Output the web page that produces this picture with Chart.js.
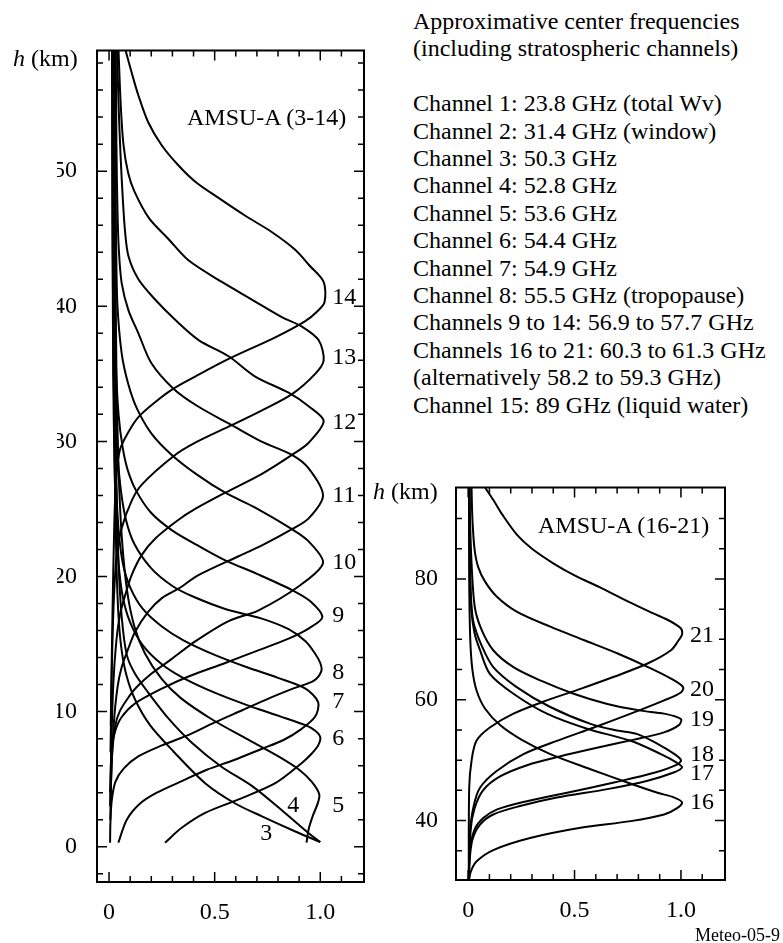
<!DOCTYPE html>
<html>
<head>
<meta charset="utf-8">
<script src="https://cdn.jsdelivr.net/npm/chart.js@4.4.0/dist/chart.umd.min.js"></script>
<style>
  body { margin: 0; background: #fff; width: 783px; height: 943px; position: relative; overflow: hidden;
         font-family: 'Liberation Serif', 'Times New Roman', serif; color: #000; }
  .box { position: absolute; }
  .t { position: absolute; font-size: 24px; line-height: 28px; white-space: nowrap; }
  #freq { position: absolute; left: 413px; top: 8px; font-size: 24px; line-height: 27.4px; white-space: nowrap; }
</style>
</head>
<body>
<div class="box" style="left:0;top:0;width:400px;height:943px"><canvas id="left"></canvas></div>
<div class="box" style="left:400px;top:420px;width:383px;height:523px"><canvas id="right"></canvas></div>

<div class="t" style="left:13px;top:44px"><i>h</i> (km)</div>
<div class="t" style="left:187px;top:103px">AMSU-A (3-14)</div>
<div class="t" style="left:373px;top:477px"><i>h</i> (km)</div>
<div class="t" style="left:538px;top:511px">AMSU-A (16-21)</div>
<div class="t" style="left:695px;top:924px;font-size:18px;line-height:22px">Meteo-05-9</div>
<div id="freq">
Approximative center frequencies<br>
(including stratospheric channels)<br>
<br>
Channel 1: 23.8 GHz (total Wv)<br>
Channel 2: 31.4 GHz (window)<br>
Channel 3: 50.3 GHz<br>
Channel 4: 52.8 GHz<br>
Channel 5: 53.6 GHz<br>
Channel 6: 54.4 GHz<br>
Channel 7: 54.9 GHz<br>
Channel 8: 55.5 GHz (tropopause)<br>
Channels 9 to 14: 56.9 to 57.7 GHz<br>
Channels 16 to 21: 60.3 to 61.3 GHz<br>
(alternatively 58.2 to 59.3 GHz)<br>
Channel 15: 89 GHz (liquid water)
</div>

<script>
// weighting functions, [weight, height km], read top to bottom
const ch3 = [[0.015,58.9],[0.018,45],[0.022,35],[0.028,27],[0.035,21],[0.045,17],[0.06,14.5],[0.084,12.6],[0.123,10.9],[0.194,9.0],[0.305,7.05],[0.455,4.7],[0.597,3.2],[0.724,2.25],[0.882,1.13],[1.0,0.35]];
const ch4 = [[0.022,58.9],[0.025,45],[0.03,35],[0.035,27],[0.045,21],[0.06,17],[0.084,14.2],[0.123,12.8],[0.186,11.4],[0.281,9.5],[0.392,7.7],[0.534,5.9],[0.676,4.5],[0.818,2.7],[0.945,1.0],[1.0,0.35]];
const ch5 = [[0.028,58.9],[0.03,45],[0.035,35],[0.045,28],[0.06,23],[0.085,19],[0.12,16.3],[0.17,14.3],[0.25,12.4],[0.34,11.0],[0.49,9.4],[0.65,8.0],[0.8,6.7],[0.9,5.7],[0.96,4.8],[0.995,3.9],[0.99,3.3],[0.965,2.3],[0.945,1.3],[0.935,0.3]];
const ch6 = [[0.015,58.9],[0.017,44],[0.02,35],[0.025,29],[0.033,24.5],[0.045,21],[0.065,18.5],[0.1,16.6],[0.16,14.9],[0.25,13.5],[0.35,12.5],[0.5,11.4],[0.65,10.5],[0.8,9.7],[0.93,9.0],[0.975,8.6],[1.0,8.1],[0.99,7.5],[0.96,6.9],[0.913,6.2],[0.787,4.7],[0.613,3.5],[0.455,2.5],[0.344,1.4],[0.265,0.3]];
const ch7 = [[0.015,58.9],[0.017,46],[0.02,38],[0.025,32],[0.033,27],[0.045,23.5],[0.065,21],[0.1,19.2],[0.16,17.6],[0.25,16.3],[0.35,15.3],[0.5,14.2],[0.65,13.3],[0.8,12.5],[0.93,11.7],[0.99,10.7],[0.976,9.64],[0.905,8.65],[0.826,7.9],[0.716,7.2],[0.589,6.4],[0.463,5.7],[0.336,4.8],[0.226,4.0],[0.147,3.2],[0.084,2.0],[0.044,0.3]];
const ch8 = [[0.018,58.9],[0.02,48],[0.023,40],[0.028,34],[0.038,29.5],[0.055,26.5],[0.08,24.2],[0.12,22.4],[0.2,20.6],[0.3,19.3],[0.4,18.5],[0.55,17.6],[0.72,16.9],[0.85,16.1],[0.93,15.2],[0.975,14.3],[1.0,13.6],[1.005,13.0],[0.97,12.3],[0.87,11.7],[0.76,11.0],[0.63,10.1],[0.5,9.2],[0.38,8.3],[0.25,7.5],[0.14,6.7],[0.07,5.8],[0.03,4.8],[0.012,3.3],[0.006,1.5],[0.005,0.3]];
const ch9 = [[0.022,58.9],[0.024,50],[0.027,42],[0.032,36],[0.045,32],[0.065,29.5],[0.09,27.8],[0.13,26.3],[0.2,24.7],[0.3,23.4],[0.42,22.3],[0.55,21.2],[0.7,20.2],[0.866,19.0],[0.95,18.2],[1.01,17.0],[0.95,16.2],[0.85,15.4],[0.7,14.5],[0.55,13.6],[0.376,12.6],[0.25,11.7],[0.123,10.6],[0.06,9.6],[0.028,8.5],[0.012,7],[0.005,4]];
const ch10 = [[0.027,58.9],[0.03,50],[0.034,44],[0.04,40],[0.06,36.5],[0.09,34.3],[0.13,32.5],[0.2,30.6],[0.297,29.0],[0.42,27.5],[0.55,26.2],[0.692,25.1],[0.866,23.5],[0.945,22.6],[1.013,21.0],[0.9,19.3],[0.708,17.5],[0.566,16.7],[0.408,15.2],[0.297,13.9],[0.2,12.8],[0.13,11.8],[0.085,10.9],[0.05,10.0],[0.03,9.0],[0.015,7],[0.006,3]];
const ch11 = [[0.032,58.9],[0.035,52],[0.04,47],[0.047,44],[0.06,41.7],[0.092,39.7],[0.139,38.0],[0.2,35.8],[0.305,33.9],[0.42,32.6],[0.581,31.2],[0.72,30.0],[0.866,29.0],[0.945,28.0],[1.013,26.0],[0.945,24.3],[0.866,23.5],[0.724,22.3],[0.613,21.5],[0.423,20.1],[0.329,19.1],[0.25,18.4],[0.186,17.4],[0.123,15.9],[0.092,14.7],[0.06,13.3],[0.04,11.8],[0.022,9],[0.01,5],[0.006,2]];
const ch12 = [[0.038,58.9],[0.045,55],[0.055,51],[0.065,48],[0.076,45.5],[0.092,43.7],[0.139,42.0],[0.218,40.5],[0.313,39.0],[0.424,37.5],[0.566,36.3],[0.692,34.8],[0.85,33.6],[0.945,32.6],[1.016,31.5],[0.945,29.9],[0.866,29.0],[0.724,27.6],[0.55,26.2],[0.408,25.0],[0.329,24.2],[0.218,22.8],[0.155,21.6],[0.107,20.1],[0.076,18.6],[0.052,17.2],[0.035,15.3],[0.02,12],[0.01,7],[0.006,3]];
const ch13 = [[0.045,58.9],[0.055,55],[0.068,52],[0.09,49.9],[0.12,48.5],[0.19,46.5],[0.28,45.0],[0.376,43.4],[0.534,41.8],[0.676,40.5],[0.818,39.2],[0.913,38.5],[0.992,37.5],[1.016,36.0],[0.976,35.0],[0.866,33.5],[0.724,32.3],[0.581,31.2],[0.408,29.9],[0.305,28.9],[0.155,26.8],[0.107,25.6],[0.06,23.6],[0.036,21.6],[0.022,18],[0.013,13],[0.007,7]];
const ch14 = [[0.079,58.9],[0.107,57.3],[0.139,55.6],[0.186,53.6],[0.25,51.9],[0.33,50.4],[0.41,49.2],[0.52,48.0],[0.645,46.7],[0.77,45.5],[0.88,44.2],[0.95,43.0],[1.016,41.8],[1.02,40.3],[0.984,39.6],[0.929,38.9],[0.787,37.7],[0.566,36.1],[0.408,34.8],[0.305,33.9],[0.218,32.9],[0.139,31.8],[0.092,30.7],[0.052,29.4],[0.035,27.5],[0.025,24],[0.015,16],[0.008,9]];

const ch16 = [[0.004,95.1],[0.005,80],[0.01,70],[0.02,65],[0.04,61.5],[0.08,58.5],[0.15,55.8],[0.25,53.4],[0.386,51.0],[0.575,48.5],[0.748,46.3],[0.89,44.6],[0.969,43.8],[1.005,43.0],[0.98,42.0],[0.921,41.0],[0.764,39.9],[0.528,38.8],[0.291,37.1],[0.118,35.1],[0.039,33.2],[0.012,31.5],[0.004,30.1]];
const ch17 = [[0.005,95.1],[0.008,82],[0.015,75],[0.03,71],[0.055,68.3],[0.102,64.3],[0.213,61.0],[0.37,57.7],[0.559,55.2],[0.764,53.2],[0.906,51.0],[0.98,49.6],[1.005,48.8],[0.969,48.0],[0.843,46.6],[0.654,45.2],[0.417,43.8],[0.244,42.4],[0.118,41.0],[0.055,39.3],[0.02,36.8],[0.006,33],[0.003,30.1]];
const ch18 = [[0.006,95.1],[0.008,85],[0.012,78],[0.024,73],[0.063,69],[0.118,65.4],[0.228,62.1],[0.386,58.8],[0.575,56.0],[0.7,54.9],[0.795,54.3],[0.89,52.7],[0.97,51.0],[1.0,50.0],[0.984,49.3],[0.874,47.9],[0.685,46.3],[0.465,44.6],[0.276,43.2],[0.134,41.8],[0.071,40.4],[0.03,38.5],[0.008,35],[0.003,30.1]];
const ch19 = [[0.007,95.1],[0.008,91],[0.016,82.7],[0.031,75.4],[0.063,71.6],[0.118,68.2],[0.213,65.4],[0.339,63.2],[0.496,61.0],[0.654,59.3],[0.811,58.2],[0.921,57.7],[1.0,56.8],[0.99,55.8],[0.92,54.6],[0.78,53.4],[0.6,52.0],[0.43,50.6],[0.28,49.2],[0.15,47.3],[0.07,45.0],[0.03,42.0],[0.012,38.5],[0.004,30.1]];
const ch20 = [[0.016,95.1],[0.02,90],[0.03,85],[0.047,82],[0.079,79.6],[0.134,77.1],[0.228,74.6],[0.386,72.1],[0.543,69.9],[0.7,67.7],[0.858,65.2],[0.953,63.5],[1.01,62.1],[1.0,61.2],[0.921,59.9],[0.764,57.7],[0.591,55.4],[0.417,53.2],[0.26,51.0],[0.134,48.2],[0.055,45.4],[0.024,42.1],[0.008,37.7],[0.003,30.1]];
const ch21 = [[0.08,95.1],[0.12,93],[0.16,90.7],[0.23,87.3],[0.3,85],[0.4,82.6],[0.5,80.6],[0.62,78.6],[0.75,76.3],[0.87,74.3],[0.95,73],[1.0,71.8],[1.005,70.8],[0.99,69.9],[0.953,68.2],[0.843,66.0],[0.685,63.8],[0.528,61.8],[0.37,59.9],[0.213,57.7],[0.102,55.4],[0.039,53.2],[0.016,49.9],[0.005,45.4],[0.003,30.1]];

const leftSeries = [ch3, ch4, ch5, ch6, ch7, ch8, ch9, ch10, ch11, ch12, ch13, ch14];
const rightSeries = [ch16, ch17, ch18, ch19, ch20, ch21];

// tick values and labels
const xLabels = [0, 0.5, 1.0];
const xMinor = [0, 0.1, 0.2, 0.3, 0.4, 0.5, 0.6, 0.7, 0.8, 0.9, 1.0, 1.1];
const leftYLabels = [0, 10, 20, 30, 40, 50];
const leftYMinor = [-2, 0, 2, 4, 6, 8, 10, 12, 14, 16, 18, 20, 22, 24, 26, 28, 30, 32, 34, 36, 38, 40, 42, 44, 46, 48, 50, 52, 54, 56, 58];
const rightYLabels = [40, 60, 80];
const rightYMinor = [35, 40, 45, 50, 55, 60, 65, 70, 75, 80, 85, 90];

// channel numbers next to each peak: [text, weight, height]
const leftTags = [['14',1.057,40.6],['13',1.057,36.2],['12',1.057,31.4],['11',1.057,26.0],['10',1.057,21.0],['9',1.057,17.1],['8',1.057,12.9],['7',1.057,10.7],['6',1.057,8.0],['5',1.057,3.0],['4',0.844,3.0],['3',0.716,1.0]];
const rightTags = [['21',1.042,70.6],['20',1.042,61.7],['19',1.042,56.7],['18',1.042,50.9],['17',1.042,47.8],['16',1.042,43.0]];

const FONT = "'Liberation Serif', 'Times New Roman', serif";
Chart.defaults.font.family = FONT;
Chart.defaults.color = '#000';

const frameTicks = {
    id: 'frameTicks',
    afterDraw(chart, args, opts) {
        const {ctx, chartArea: a, scales: {x, y}} = chart;
        ctx.save();
        ctx.strokeStyle = '#000';
        ctx.lineWidth = 1.5;
        ctx.beginPath();
        xMinor.forEach(v => {
            const p = x.getPixelForValue(v);
            const len = xLabels.includes(v) ? 10 : 6;
            ctx.moveTo(p, a.bottom); ctx.lineTo(p, a.bottom - len);
            ctx.moveTo(p, a.top); ctx.lineTo(p, a.top + len);
        });
        opts.yMinor.forEach(v => {
            const p = y.getPixelForValue(v);
            const len = opts.yMajor.includes(v) ? 10 : 6;
            ctx.moveTo(a.left, p); ctx.lineTo(a.left + len, p);
            ctx.moveTo(a.right, p); ctx.lineTo(a.right - len, p);
        });
        ctx.stroke();
        ctx.lineWidth = 2;
        ctx.strokeRect(a.left, a.top, a.width, a.height);

        ctx.fillStyle = '#000';
        ctx.font = '24px ' + FONT;
        ctx.textBaseline = 'middle';
        ctx.textAlign = 'left';
        opts.tags.forEach(t => ctx.fillText(t[0], x.getPixelForValue(t[1]), y.getPixelForValue(t[2])));
        ctx.restore();
    }
};

function makeChart(id, series, yMin, yMax, yLabels, yMinor, tags, pad, yPad) {
    const datasets = series.map(s => ({
        data: s.map(p => ({x: p[0], y: p[1]})),
        showLine: true,
        borderColor: '#000',
        borderWidth: 2,
        pointRadius: 0,
        tension: 0.3,
        fill: false
    }));
    return new Chart(document.getElementById(id), {
        type: 'scatter',
        data: {datasets: datasets},
        options: {
            responsive: true,
            maintainAspectRatio: false,
            animation: false,
            layout: {padding: pad},
            plugins: {
                legend: {display: false},
                tooltip: {enabled: false},
                frameTicks: {yMinor: yMinor, yMajor: yLabels, tags: tags}
            },
            scales: {
                x: {
                    type: 'linear', min: -0.057, max: 1.207,
                    grid: {display: false, drawTicks: false},
                    border: {display: false},
                    afterBuildTicks: s => { s.ticks = xLabels.map(v => ({value: v})); },
                    afterFit: s => { s.height = 50; },
                    ticks: {
                        font: {size: 24}, padding: 16, maxRotation: 0, autoSkip: false,
                        callback: v => v === 0 ? '0' : v.toFixed(1)
                    }
                },
                y: {
                    type: 'linear', min: yMin, max: yMax,
                    grid: {display: false, drawTicks: false},
                    border: {display: false},
                    afterBuildTicks: s => { s.ticks = yLabels.map(v => ({value: v})); },
                    afterFit: s => { s.width = 40; },
                    ticks: {font: {size: 24}, padding: yPad, callback: v => String(v)}
                }
            }
        },
        plugins: [frameTicks]
    });
}

makeChart('left', leftSeries, -2.61, 58.93, leftYLabels, leftYMinor, leftTags,
    {left: 57, right: 36, top: 50.5, bottom: 11}, 20);
makeChart('right', rightSeries, 30.15, 95.15, rightYLabels, rightYMinor, rightTags,
    {left: 16, right: 58, top: 67.5, bottom: 13}, 18);
</script>
</body>
</html>
